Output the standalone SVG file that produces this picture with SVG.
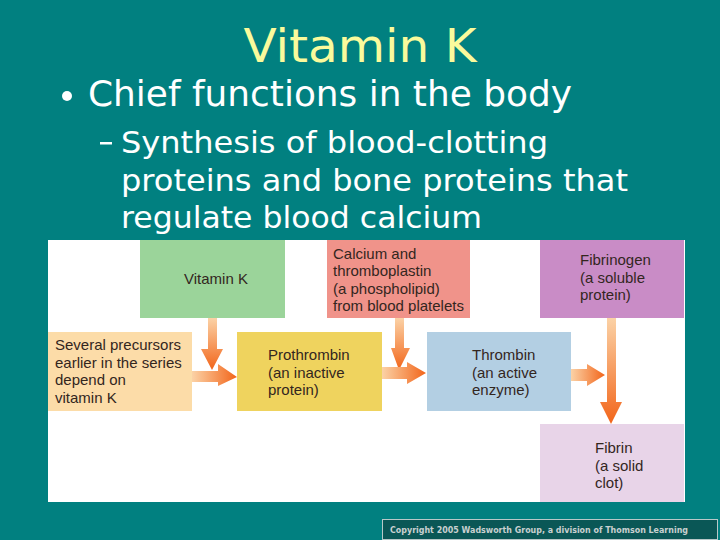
<svg xmlns="http://www.w3.org/2000/svg" width="720" height="540" viewBox="0 0 720 540">
<defs>
<style>
.h{font-family:"DejaVu Sans","Liberation Sans",sans-serif;fill:#ffffff}
.lb{font-family:"Liberation Sans","Open Sans",sans-serif;font-size:15px;fill:#33261e}
</style>
<linearGradient id="gv" x1="0" y1="0" x2="0" y2="1"><stop offset="0" stop-color="#fbd2a6"/><stop offset="1" stop-color="#f2651a"/></linearGradient>
<linearGradient id="gh" x1="0" y1="0" x2="1" y2="0"><stop offset="0" stop-color="#fbd2a6"/><stop offset="1" stop-color="#f2651a"/></linearGradient>
</defs>
<rect x="0" y="0" width="720" height="540" fill="#018080"/>
<text x="360" y="62" text-anchor="middle" font-family="DejaVu Sans, sans-serif" font-size="46" fill="#fafa9c" textLength="233" lengthAdjust="spacingAndGlyphs">Vitamin K</text>
<circle cx="67" cy="96" r="5" fill="#ffffff"/>
<text class="h" x="88" y="106" font-size="36" textLength="484" lengthAdjust="spacingAndGlyphs">Chief functions in the body</text>
<rect x="100" y="142" width="12" height="2.5" fill="#ffffff"/>
<text class="h" x="121" y="153" font-size="31" textLength="427" lengthAdjust="spacingAndGlyphs">Synthesis of blood-clotting</text>
<text class="h" x="121" y="191" font-size="31" textLength="507" lengthAdjust="spacingAndGlyphs">proteins and bone proteins that</text>
<text class="h" x="121" y="228" font-size="31" textLength="361" lengthAdjust="spacingAndGlyphs">regulate blood calcium</text>
<rect x="48" y="240" width="637" height="262" fill="#ffffff"/>
<g id="vitk"><rect x="140" y="240" width="145" height="78" fill="#9bd49a"/><text class="lb" x="216" y="284" text-anchor="middle">Vitamin K</text></g>
<g id="calcium"><rect x="327" y="240" width="143" height="78" fill="#f0938a"/><text class="lb" x="333" y="259">Calcium and</text><text class="lb" x="333" y="276">thromboplastin</text><text class="lb" x="333" y="294">(a phospholipid)</text><text class="lb" x="333" y="311">from blood platelets</text></g>
<g id="fibrinogen"><rect x="540" y="240" width="144" height="78" fill="#c98cc6"/><text class="lb" x="580" y="265">Fibrinogen</text><text class="lb" x="580" y="283">(a soluble</text><text class="lb" x="580" y="300">protein)</text></g>
<g id="precursors"><rect x="48" y="332" width="144" height="79" fill="#fcdca8"/><text class="lb" x="55" y="350">Several precursors</text><text class="lb" x="55" y="368">earlier in the series</text><text class="lb" x="55" y="385">depend on</text><text class="lb" x="55" y="403">vitamin K</text></g>
<g id="prothrombin"><rect x="237" y="332" width="145" height="79" fill="#efd35e"/><text class="lb" x="268" y="360">Prothrombin</text><text class="lb" x="268" y="378">(an inactive</text><text class="lb" x="268" y="395">protein)</text></g>
<g id="thrombin"><rect x="427" y="332" width="144" height="79" fill="#b3cfe3"/><text class="lb" x="472" y="360">Thrombin</text><text class="lb" x="472" y="378">(an active</text><text class="lb" x="472" y="395">enzyme)</text></g>
<g id="fibrin"><rect x="540" y="424" width="144" height="78" fill="#e8d4e8"/><text class="lb" x="595" y="453">Fibrin</text><text class="lb" x="595" y="471">(a solid</text><text class="lb" x="595" y="488">clot)</text></g>
<g id="connectors">
<polygon points="208,318 217,318 217,349 223,349 212,370 201,349 208,349" fill="url(#gv)"/>
<polygon points="192,371 218,371 218,364 237,377 218,386 218,382 192,382" fill="url(#gh)"/>
<polygon points="395,318 404,318 404,348 410,348 399,370 391,348 395,348" fill="url(#gv)"/>
<polygon points="382,367 407,367 407,362 426,373 407,384 407,379 382,379" fill="url(#gh)"/>
<polygon points="571,369 587,369 587,364 605,375 587,386 587,381 571,381" fill="url(#gh)"/>
<polygon points="607,318 616,318 616,402 622,402 611,424 600,402 607,402" fill="url(#gv)"/>
</g>
<rect x="382.5" y="519.5" width="335" height="20" fill="#0a5756" stroke="#b8c8c8" stroke-width="1"/>
<text x="390" y="533" font-family="DejaVu Sans, sans-serif" font-size="8" font-weight="bold" fill="#c8d0d0" textLength="298" lengthAdjust="spacingAndGlyphs">Copyright 2005 Wadsworth Group, a division of Thomson Learning</text>
</svg>
